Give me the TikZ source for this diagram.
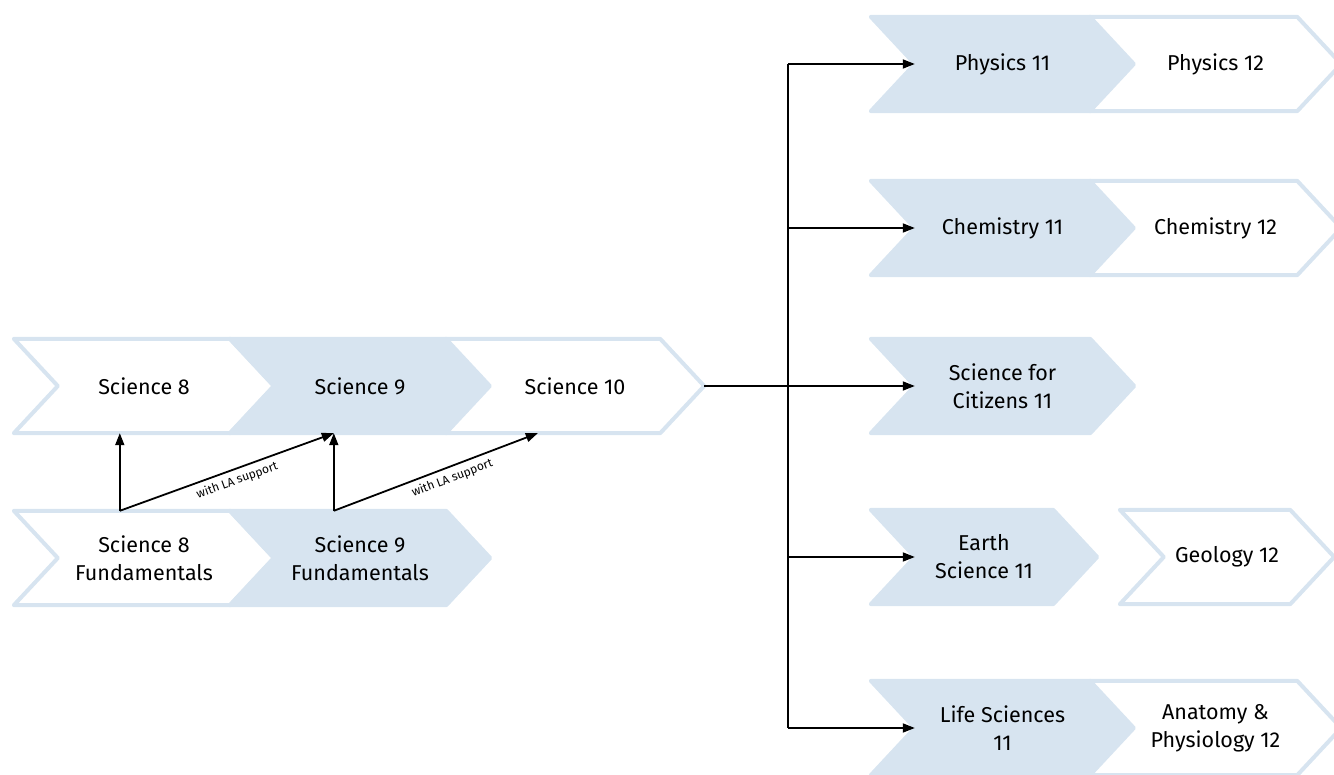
\documentclass[tikz,border=0pt]{standalone}
\usepackage{fontspec}
\setmainfont{Fira Sans}
\usepackage{tikz}
\usetikzlibrary{arrows.meta}
\usetikzlibrary{backgrounds}
\definecolor{chevblue}{RGB}{215,228,240}

\begin{document}
\begin{tikzpicture}[x=1pt,y=-1pt,
    course/.style={minimum height=94pt,inner sep=0pt,align=center,font=\fontsize{21.5}{28}\selectfont},
    open/.style={draw=chevblue,line width=4pt,line join=round,fill=white},
    shaded/.style={draw=chevblue,line width=4pt,line join=round,fill=chevblue},
    link/.style={line width=1.8pt,-{Triangle[length=12pt,width=9pt]}},
    note/.style={font=\fontsize{12}{14}\selectfont,sloped,below=1.5pt}]
                \useasboundingbox (0,0) rectangle (1334,775);
                % left chain
                \node[course,minimum width=260pt] (sci8) at (144,386) {Science 8};
                \node[course,minimum width=260pt] (sci9) at (360,386) {Science 9};
                \node[course,minimum width=258pt] (sci10) at (575,386) {Science 10};
                \node[course,minimum width=260pt] (sci8f) at (144,558) {Science 8\\Fundamentals};
                \node[course,minimum width=260pt] (sci9f) at (360,558) {Science 9\\Fundamentals};
                % right column
                \node[course,minimum width=263pt] (phys11) at (1002.5,64) {Physics 11};
                \node[course,minimum width=251pt] (phys12) at (1215.5,64) {Physics 12};
                \node[course,minimum width=263pt] (chem11) at (1002.5,228) {Chemistry 11};
                \node[course,minimum width=251pt] (chem12) at (1215.5,228) {Chemistry 12};
                \node[course,minimum width=263pt] (cit11) at (1002.5,386) {Science for\\Citizens 11};
                \node[course,minimum width=226pt] (earth11) at (984,557) {Earth\\Science 11};
                \node[course,minimum width=214pt] (geo12) at (1227,557) {Geology 12};
                \node[course,minimum width=263pt] (life11) at (1002.5,728) {Life Sciences\\11};
                \node[course,minimum width=251pt] (anat12) at (1215.5,728) {Anatomy \&\\Physiology 12};

                \begin{scope}[on background layer]
                \clip (0,0) rectangle (1334,775);
                \foreach \n/\s in {sci8/open,sci9/shaded,sci10/open,sci8f/open,sci9f/shaded,
                    phys11/shaded,phys12/open,chem11/shaded,chem12/open,cit11/shaded,
                    earth11/shaded,geo12/open,life11/shaded,anat12/open}
                    \draw[\s] (\n.north west) -- ([xshift=-44pt]\n.north east) -- (\n.east)
                        -- ([xshift=-44pt]\n.south east) -- (\n.south west) -- ([xshift=44pt]\n.west) -- cycle;
                \end{scope}

                % upgrade arrows
                \draw[link] ([xshift=106pt]sci8f.north west) -- ([xshift=106pt]sci8.south west);
                \draw[link] ([xshift=106pt]sci8f.north west) -- ([xshift=104pt]sci9.south west)
                    node[note,pos=0.53] {with LA support};
                \draw[link] ([xshift=104pt]sci9f.north west) -- ([xshift=104pt]sci9.south west);
                \draw[link] ([xshift=104pt]sci9f.north west) -- ([xshift=92pt]sci10.south west)
                    node[note,pos=0.56] {with LA support};

                % branches after Science 10
                \coordinate (hub) at (788,386);
                \draw[link] (sci10.east) -- ([xshift=44pt]cit11.west);
                \draw[line width=1.8pt] (hub |- phys11.west) -- (hub |- life11.west);
                \foreach \n in {phys11,chem11,earth11,life11}
                    \draw[link] (hub |- \n.west) -- ([xshift=44pt]\n.west);
            \end{tikzpicture}
\end{document}
